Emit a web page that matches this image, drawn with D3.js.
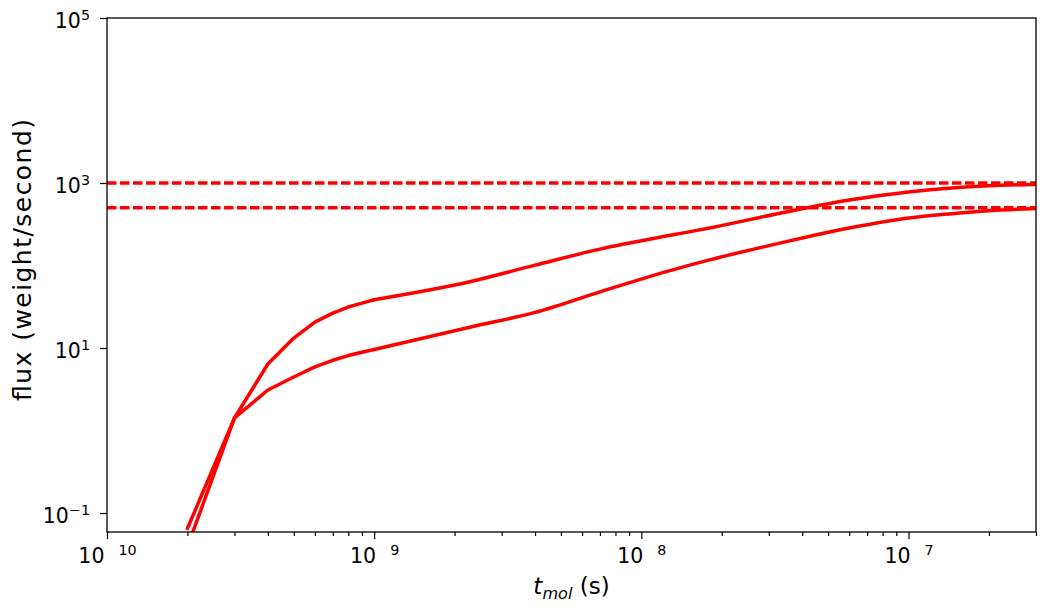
<!doctype html>
<html>

<head>
    <meta charset="utf-8">
    <title>flux vs t_mol</title>
    <style>
        body { margin: 0; background: #fff; }
        text { font-family: "DejaVu Sans", sans-serif; }
    </style>
</head>

<body>
    <svg width="1056" height="611"></svg>
    <script src="https://cdn.jsdelivr.net/npm/d3@7/dist/d3.min.js"></script>
    <script>
    // time samples (s) and the two flux curves
    var tValues = [2e-10, 3e-10, 4e-10, 5e-10, 6e-10, 7e-10, 8e-10, 9e-10, 1e-9,
        2.3e-9, 4e-9, 7e-9, 1.3e-8, 1.8e-8, 3.3e-8, 6e-8, 1e-7, 1.45e-7, 2e-7, 3e-7];
    var fluxHigh = [0.039, 1.42, 6.4, 13.2, 20.6, 26.5, 31.4, 35, 38.5,
        64, 101, 158, 234, 285, 430, 622, 778, 870, 925, 960];
    var fluxLow = [0.065, 1.42, 3.1, 4.45, 5.9, 7.1, 8.1, 8.9, 9.6,
        18, 27, 48, 88, 117, 187, 285, 377, 425, 462, 491];
    // steady-state levels (dashed)
    var steadyLevels = [1000, 500];

    // axis ticks, as exponents of ten
    var xTickExps = [-10, -9, -8, -7];
    var yTickExps = [-1, 1, 3, 5];

    var width = 1056;
    var height = 611;
    var margin = { top: 18, right: 20, bottom: 79, left: 107 };
    var plotW = width - margin.left - margin.right;
    var plotH = height - margin.top - margin.bottom;
    var tickFont = 20.5, supFont = 14.3, labelFont = 23;

    var svg = d3.select("svg");
    var g = svg.append("g")
        .attr("transform", "translate(" + margin.left + "," + margin.top + ")");

    var xScale = d3.scaleLog().domain([1e-10, 3e-7]).range([0, plotW]);
    var yScale = d3.scaleLog().domain([0.0589, 1e5]).range([plotH, 0]);

    g.append("clipPath").attr("id", "plotClip")
        .append("rect").attr("width", plotW).attr("height", plotH);

    // minor ticks on x (the log scale gives 1..9 per decade, drop the decades)
    var majorX = xTickExps.map(function(e) { return Math.pow(10, e); });
    var minorX = xScale.ticks().filter(function(v) {
        return !majorX.some(function(m) { return Math.abs(v / m - 1) < 1e-6; });
    });

    var xMinor = g.append("g")
        .attr("transform", "translate(0," + plotH + ")")
        .call(d3.axisBottom(xScale).tickValues(minorX).tickSize(4).tickFormat(""));
    xMinor.select(".domain").remove();

    var xMajor = g.append("g")
        .attr("transform", "translate(0," + plotH + ")")
        .call(d3.axisBottom(xScale).tickValues(majorX).tickSize(7).tickFormat(""));
    xMajor.select(".domain").remove();

    // "10" with the exponent set apart (the minus is not drawn in the original)
    xMajor.selectAll(".tick").each(function(d, i) {
        var t = d3.select(this).append("text")
            .attr("fill", "#000")
            .attr("y", 31)
            .attr("text-anchor", "middle")
            .style("font-size", tickFont + "px")
            .text("10");
        t.append("tspan")
            .attr("dx", 14)
            .attr("dy", -8)
            .style("font-size", supFont + "px")
            .text(String(Math.abs(xTickExps[i])));
    });

    var yMajor = g.append("g")
        .call(d3.axisLeft(yScale)
            .tickValues(yTickExps.map(function(e) { return Math.pow(10, e); }))
            .tickSize(7).tickFormat(""));
    yMajor.select(".domain").remove();

    yMajor.selectAll(".tick").each(function(d, i) {
        var e = yTickExps[i];
        var t = d3.select(this).append("text")
            .attr("fill", "#000")
            .attr("x", -17)
            .attr("y", 9)
            .attr("text-anchor", "end")
            .style("font-size", tickFont + "px")
            .text("10");
        t.append("tspan")
            .attr("dy", -8)
            .style("font-size", supFont + "px")
            .text(e < 0 ? "\u2212" + Math.abs(e) : String(e));
    });

    g.selectAll(".tick line").attr("stroke", "#000").attr("stroke-width", 1.2);

    // curves
    var plot = g.append("g").attr("clip-path", "url(#plotClip)");

    plot.selectAll("line.steady")
        .data(steadyLevels)
        .enter().append("line")
        .attr("class", "steady")
        .attr("x1", 0)
        .attr("x2", plotW)
        .attr("y1", function(d) { return yScale(d); })
        .attr("y2", function(d) { return yScale(d); })
        .attr("stroke", "#ff0000")
        .attr("stroke-width", 3.5)
        .attr("stroke-dasharray", "9.5,3.5");

    // straight segments over the early samples, smooth afterwards
    var lineEarly = d3.line()
        .x(function(d) { return xScale(d[0]); })
        .y(function(d) { return yScale(d[1]); });
    var lineLate = d3.line()
        .x(function(d) { return xScale(d[0]); })
        .y(function(d) { return yScale(d[1]); })
        .curve(d3.curveMonotoneX);
    var split = tValues.indexOf(1e-9);

    [fluxHigh, fluxLow].forEach(function(series) {
        var pts = tValues.map(function(t, i) { return [t, series[i]]; });
        [lineEarly(pts.slice(0, split + 1)), lineLate(pts.slice(split))].forEach(function(dStr) {
            plot.append("path")
                .attr("d", dStr)
                .attr("fill", "none")
                .attr("stroke", "#ff0000")
                .attr("stroke-width", 3.5)
                .attr("stroke-linejoin", "round")
                .attr("stroke-linecap", "round");
        });
    });

    // frame
    g.append("rect")
        .attr("width", plotW)
        .attr("height", plotH)
        .attr("fill", "none")
        .attr("stroke", "#000")
        .attr("stroke-width", 1.3);

    // axis labels
    var xl = svg.append("text")
        .attr("x", margin.left + plotW / 2)
        .attr("y", 594)
        .attr("text-anchor", "middle")
        .style("font-size", labelFont + "px");
    xl.append("tspan").style("font-style", "italic").text("t");
    xl.append("tspan").style("font-style", "italic").style("font-size", (labelFont * 0.7) + "px")
        .attr("dy", 5).text("mol");
    xl.append("tspan").attr("dy", -5).text(" (s)");

    svg.append("text")
        .attr("transform", "translate(31,260) rotate(-90)")
        .attr("text-anchor", "middle")
        .attr("textLength", 282)
        .attr("lengthAdjust", "spacing")
        .style("font-size", "25px")
        .text("flux (weight/second)");
    </script>
</body>

</html>
